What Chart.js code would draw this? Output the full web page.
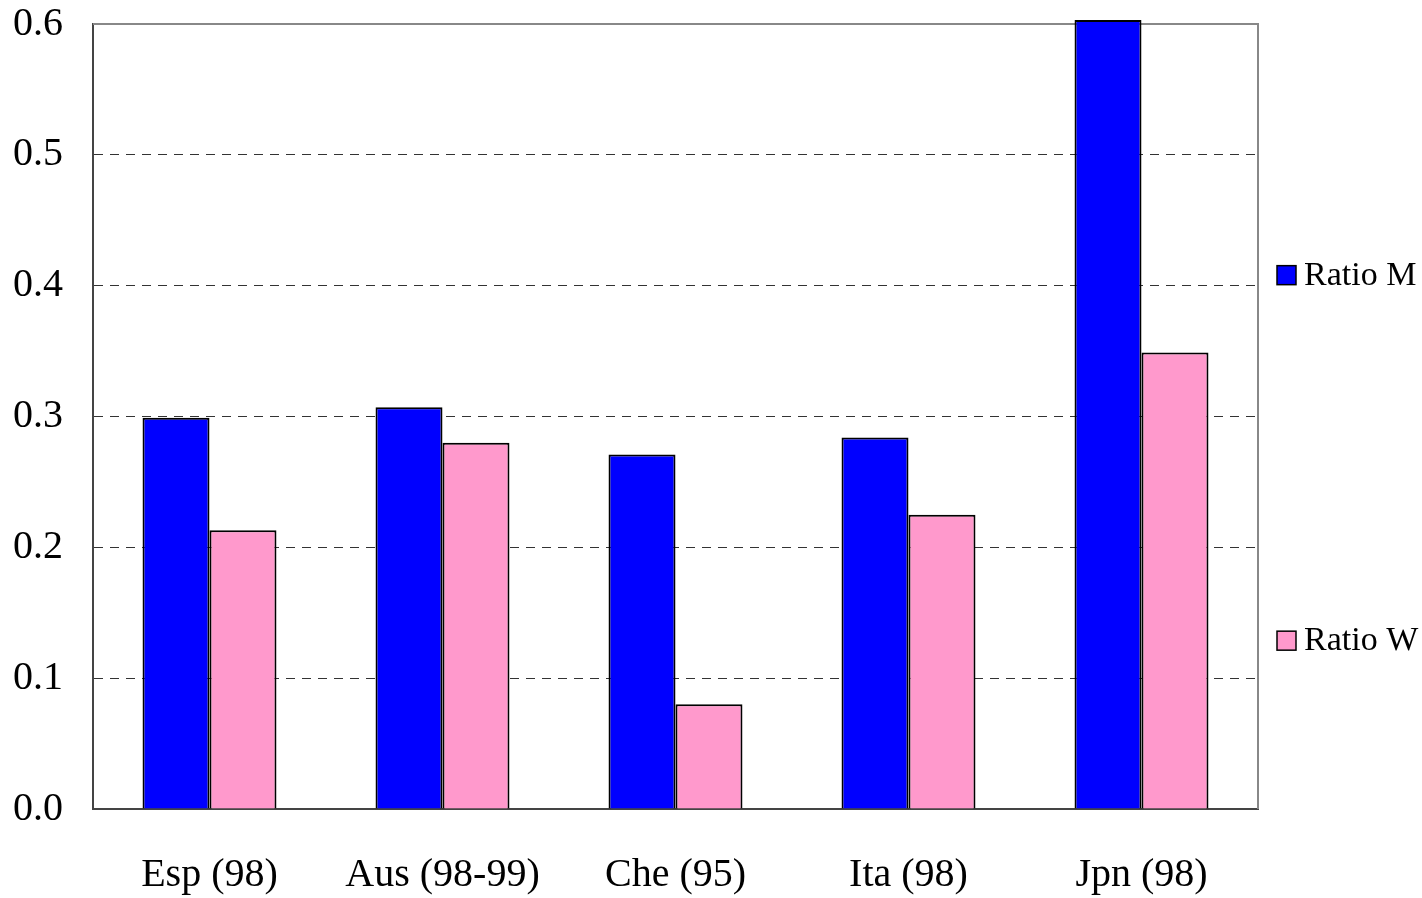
<!DOCTYPE html>
<html>
<head>
<meta charset="utf-8">
<script src="https://cdn.jsdelivr.net/npm/chart.js@4/dist/chart.umd.min.js"></script>
<style>
  html, body { margin: 0; padding: 0; background: #fff; }
  #wrap { width: 1422px; height: 898px; position: relative; }
</style>
</head>
<body>
<div id="wrap"><canvas id="ratioChart"></canvas></div>
<script>
// Data
const categories = ['Esp (98)', 'Aus (98-99)', 'Che (95)', 'Ita (98)', 'Jpn (98)'];
const ratioM = [0.299, 0.307, 0.271, 0.284, 0.603];
const ratioW = [0.213, 0.280, 0.080, 0.225, 0.349];
const yTicks = [0.0, 0.1, 0.2, 0.3, 0.4, 0.5, 0.6];

const serif = '"Liberation Serif", "Times New Roman", serif';

// Frame round the plot area + legend on the right
const frameAndLegend = {
    id: 'frameAndLegend',
    beforeDatasetsDraw(chart) {
        const a = chart.chartArea;
        const ctx = chart.ctx;
        ctx.save();
        ctx.strokeStyle = '#888';
        ctx.lineWidth = 2;
        ctx.beginPath();
        ctx.moveTo(a.left, a.top);
        ctx.lineTo(a.right, a.top);
        ctx.lineTo(a.right, a.bottom);
        ctx.stroke();
        ctx.restore();
    },
    afterDraw(chart) {
        const ctx = chart.ctx;
        const a = chart.chartArea;
        const y = chart.scales.y;
        const rows = [
            { ds: chart.data.datasets[0], cy: y.getPixelForValue(0.4) - 11 },
            { ds: chart.data.datasets[1], cy: y.getPixelForValue(0.1) - 38 }
        ];
        ctx.save();
        ctx.font = '34px ' + serif;
        ctx.textBaseline = 'middle';
        rows.forEach(r => {
            const bx = a.right + 19;
            ctx.fillStyle = r.ds.backgroundColor;
            ctx.fillRect(bx, r.cy - 9, 19, 19);
            ctx.strokeStyle = '#000';
            ctx.lineWidth = 1.5;
            ctx.strokeRect(bx, r.cy - 9, 19, 19);
            ctx.fillStyle = '#000';
            ctx.fillText(r.ds.label, bx + 27, r.cy + 1);
        });
        ctx.restore();
    }
};

const ctx = document.getElementById('ratioChart').getContext('2d');
new Chart(ctx, {
    type: 'bar',
    data: {
        labels: categories,
        datasets: [{
            label: 'Ratio M',
            data: ratioM,
            backgroundColor: '#0000FF',
            borderColor: '#000',
            borderWidth: 2,
            clip: false
        }, {
            label: 'Ratio W',
            data: ratioW,
            backgroundColor: '#FF99CC',
            borderColor: '#000',
            borderWidth: 2,
            clip: false
        }]
    },
    options: {
        responsive: true,
        maintainAspectRatio: false,
        animation: false,
        layout: {
            padding: { top: 24, right: 164, left: 0, bottom: 0 }
        },
        datasets: {
            bar: {
                categoryPercentage: 0.575,
                barPercentage: 1.0
            }
        },
        plugins: {
            legend: { display: false },
            tooltip: { enabled: false }
        },
        scales: {
            x: {
                grid: { display: false, drawTicks: false },
                border: { display: true, color: '#444', width: 2 },
                ticks: {
                    color: '#000',
                    font: { family: serif, size: 40 },
                    padding: 42,
                    maxRotation: 0
                },
                afterFit(scale) { scale.height = 89; }
            },
            y: {
                min: 0,
                max: 0.6,
                afterBuildTicks(scale) {
                    scale.ticks = yTicks.map(v => ({ value: v }));
                },
                grid: {
                    color: ctx => (ctx.tick && (ctx.tick.value === 0 || ctx.tick.value === 0.6)) ? 'rgba(0,0,0,0)' : '#333',
                    lineWidth: 1,
                    drawTicks: false
                },
                border: { display: true, color: '#444', width: 2, dash: [9, 7] },
                ticks: {
                    color: '#000',
                    font: { family: serif, size: 40 },
                    padding: 30,
                    callback: v => Number(v).toFixed(1)
                },
                afterFit(scale) {
                    scale.width = 93;
                    // don't let the label padding push the plot down
                    scale.paddingTop = 0;
                    scale.paddingBottom = 0;
                }
            }
        }
    },
    plugins: [frameAndLegend]
});
</script>
</body>
</html>
